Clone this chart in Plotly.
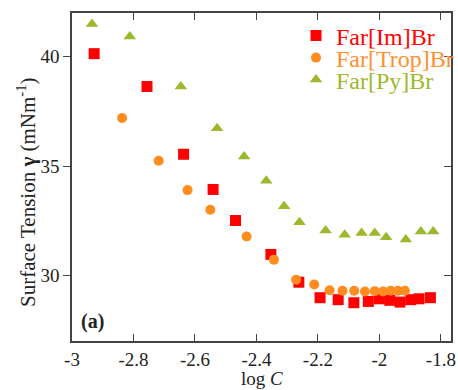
import plotly.graph_objects as go

# Data
im_x = [-2.928, -2.756, -2.637, -2.541, -2.468, -2.353, -2.262, -2.193, -2.134,
        -2.083, -2.036, -2.0, -1.966, -1.933, -1.898, -1.871, -1.834]
im_y = [40.14, 38.64, 35.54, 33.93, 32.51, 30.96, 29.69, 28.98, 28.89,
        28.75, 28.81, 28.93, 28.86, 28.78, 28.89, 28.93, 28.98]

trop_x = [-2.837, -2.718, -2.624, -2.55, -2.432, -2.343, -2.271, -2.212, -2.162,
          -2.12, -2.082, -2.047, -2.015, -1.988, -1.963, -1.939, -1.917]
trop_y = [37.2, 35.24, 33.9, 33.0, 31.78, 30.72, 29.80, 29.58, 29.32,
          29.3, 29.3, 29.26, 29.28, 29.26, 29.3, 29.3, 29.3]

py_x = [-2.935, -2.812, -2.646, -2.528, -2.44, -2.368, -2.31, -2.26, -2.175,
        -2.113, -2.058, -2.015, -1.978, -1.914, -1.865, -1.825]
py_y = [41.5, 40.92, 38.64, 36.73, 35.44, 34.33, 33.16, 32.43, 32.05,
        31.86, 31.94, 31.94, 31.74, 31.64, 32.01, 32.01]

x_ticks = [-3, -2.8, -2.6, -2.4, -2.2, -2, -1.8]
y_ticks = [30, 35, 40]

RED = "#FF0000"
ORANGE = "#FF8C1F"
GREEN = "#9BB92B"
FONT = "Liberation Serif"
TXT = "#222222"
AX = "#444444"


def fmt(v):
    return "%g" % v


fig = go.Figure()
fig.add_trace(go.Scatter(
    x=im_x, y=im_y, mode="markers", legend="legend",
    name='<span style="color:#FF0000">Far[Im]Br</span>',
    marker=dict(symbol="square", size=11, color=RED)))
fig.add_trace(go.Scatter(
    x=trop_x, y=trop_y, mode="markers", legend="legend2",
    name='<span style="color:#FF9030">Far[Trop]Br</span>',
    marker=dict(symbol="circle", size=10, color=ORANGE)))
fig.add_trace(go.Scatter(
    x=py_x, y=py_y, mode="markers", legend="legend3",
    name='<span style="color:#9BB92B">Far[Py]Br</span>',
    marker=dict(symbol="triangle-up", size=11, color=GREEN)))

# invisible trace for the right-side axis with inward ticks
fig.add_trace(go.Scatter(x=[None], y=[None], yaxis="y2", showlegend=False,
                         hoverinfo="skip"))


def leg(ypix):
    return dict(x=(296 - 72) / 379, y=(341 - ypix) / 328, xanchor="left",
                yanchor="middle", bgcolor="rgba(0,0,0,0)",
                font=dict(family=FONT, size=24), itemwidth=30)


fig.update_layout(
    width=458, height=390,
    margin=dict(l=72, r=7, t=13, b=49, autoexpand=False),
    paper_bgcolor="white", plot_bgcolor="white",
    font=dict(family=FONT, size=19, color=TXT),
    showlegend=True,
    legend=leg(36), legend2=leg(58), legend3=leg(80),
    xaxis=dict(range=[-3, -1.767], tickvals=x_ticks,
               ticktext=[fmt(v) for v in x_ticks], ticklabeloverflow="allow",
               ticks="inside", ticklen=7, tickwidth=1.3, tickcolor=AX,
               showline=True, linecolor=AX, linewidth=1.5, mirror="ticks",
               showgrid=False, zeroline=False),
    yaxis=dict(range=[27, 42], tickvals=y_ticks,
               ticktext=[fmt(v) for v in y_ticks], ticklabeloverflow="allow",
               ticks="outside", ticklen=7, tickwidth=1.3, tickcolor=AX,
               showline=True, linecolor=AX, linewidth=1.5, mirror=True,
               showgrid=False, zeroline=False),
    yaxis2=dict(range=[27, 42], tickvals=y_ticks, overlaying="y", side="right",
                anchor="x", ticks="inside", ticklen=7, tickwidth=1.3,
                tickcolor=AX, showticklabels=False, showline=False,
                showgrid=False, zeroline=False),
)

fig.add_annotation(
    text="Surface Tension <b>γ</b> (mNm<sup>-1</sup>)",
    xref="paper", yref="paper", x=(27 - 72) / 379, y=(341 - 192) / 328,
    xanchor="center", yanchor="middle", textangle=-90, showarrow=False,
    font=dict(family=FONT, size=21, color=TXT))

fig.add_annotation(
    text="log <i>C</i>",
    xref="paper", yref="paper", x=0.5, y=(341 - 378) / 328,
    xanchor="center", yanchor="middle", showarrow=False,
    font=dict(family=FONT, size=19, color=TXT))

fig.add_annotation(
    text="<b>(a)</b>", xref="paper", yref="paper", x=(79 - 72) / 379,
    y=(341 - 321) / 328,
    xanchor="left", yanchor="middle", showarrow=False,
    font=dict(family=FONT, size=20, color=TXT))

fig.write_html("out.html",
               config={"displayModeBar": False},
               post_script="document.body.style.margin='0';"
                           "document.body.style.padding='0';"
                           "document.body.style.overflow='hidden';")
